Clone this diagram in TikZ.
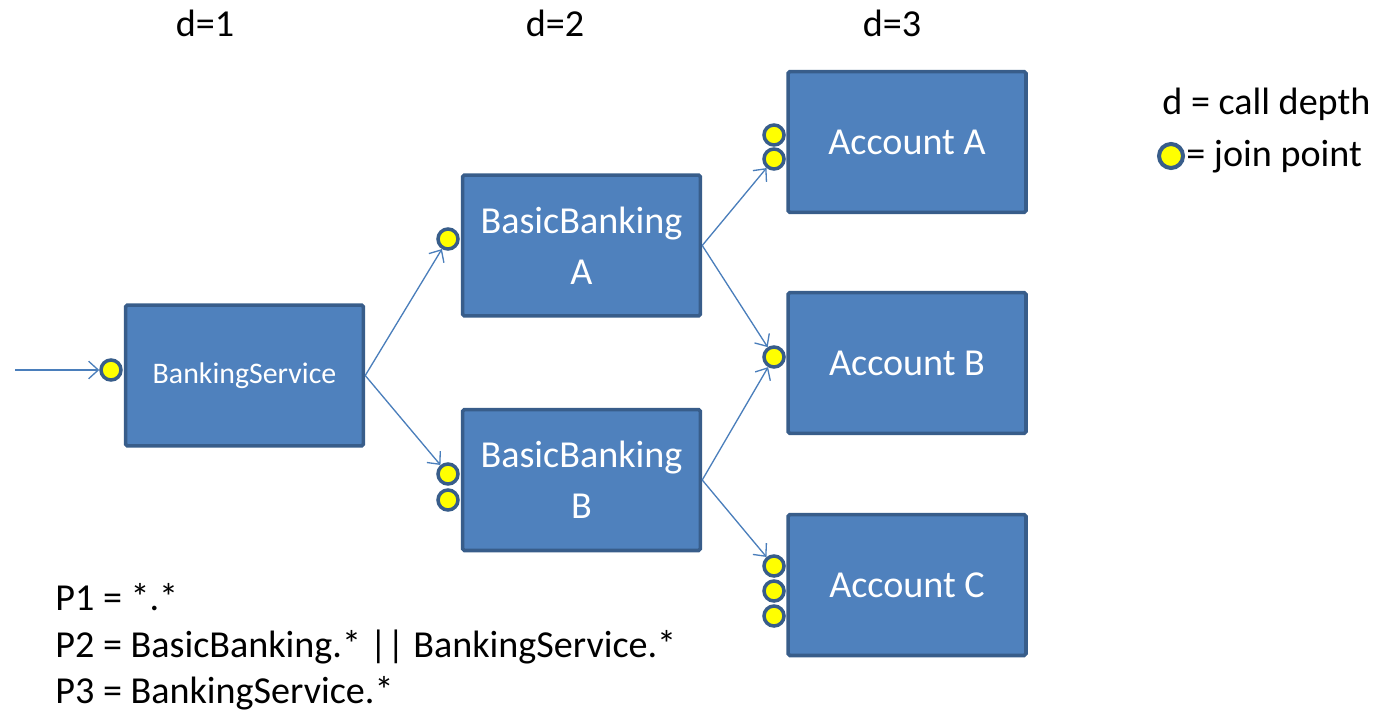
\documentclass[tikz,border=0pt]{standalone}
\usepackage{fontspec}
\setmainfont{Carlito}
\usetikzlibrary{arrows.meta}
\definecolor{boxfill}{HTML}{4F81BD}
\definecolor{boxline}{HTML}{385D8A}
\definecolor{arrowc}{HTML}{4A7EBB}
\definecolor{jpfill}{HTML}{FFFF00}

\begin{document}
\begin{tikzpicture}[x=0.02cm,y=-0.02cm,
  comp/.style={rectangle, draw=boxline, fill=boxfill, line width=2pt,
    minimum width=4.76cm, minimum height=2.82cm, rounded corners=1pt,
    text=white, align=center, font=\fontsize{21.7}{29}\selectfont, inner sep=0pt},
  jp/.style={circle, draw=boxline, fill=jpfill, line width=2pt,
    minimum size=0.4cm, inner sep=0pt},
  call/.style={draw=arrowc, line width=0.75pt, -{Straight Barb[length=5.5pt,width=10pt]}},
  lbl/.style={font=\fontsize{21.7}{26}\selectfont, inner sep=0pt, anchor=base west},
  depth/.style={font=\fontsize{21.7}{26}\selectfont, inner sep=0pt, anchor=base}]

\useasboundingbox (0,0) rectangle (1391,716);

% call depth headings
\node[depth] (d1) at (205,37) {d=1};
\node[depth] (d2) at (555,37) {d=2};
\node[depth] (d3) at (892,37) {d=3};

% components
\node[comp, font=\fontsize{17}{22}\selectfont] (bs) at (244.5,375.5) {BankingService};
\node[comp] (bba) at (581.5,245.5) {BasicBanking\\A};
\node[comp] (bbb) at (581.5,480) {BasicBanking\\B};
\node[comp] (aa) at (907,142) {Account A};
\node[comp] (ab) at (907,363) {Account B};
\node[comp] (ac) at (907,585) {Account C};

% join points
\node[jp] (j0) at (111,370) {};
\node[jp] (ja) at (448,239) {};
\node[jp] (jb1) at (448,474) {};
\node[jp] (jb2) at (448,500) {};
\node[jp] (jaa1) at (774,135) {};
\node[jp] (jaa2) at (774,159) {};
\node[jp] (jab) at (774,357) {};
\node[jp] (jac1) at (774,566) {};
\node[jp] (jac2) at (774,591) {};
\node[jp] (jac3) at (774,616) {};

% calls
\coordinate (entry) at (15,370);
\draw[call] (entry) -- (j0);
\draw[call] (bs.east) -- (ja);
\draw[call] (bs.east) -- (jb1);
\draw[call] (bba.east) -- (jaa2);
\draw[call] (bba.east) -- (jab);
\draw[call] (bbb.east) -- (jab);
\draw[call] (bbb.east) -- (jac1);

% legend
\node[lbl] (leg1) at (1162,115) {d = call depth};
\node[jp, minimum size=0.48cm, line width=2.3pt] (legjp) at (1171,156) {};
\node[lbl] (leg2) at (1186,167) {= join point};

% pointcuts
\node[lbl] (p1) at (55,610) {P1 = *.*};
\node[lbl] (p2) at (55,657) {P2 = BasicBanking.* || BankingService.*};
\node[lbl] (p3) at (55,703) {P3 = BankingService.*};
\end{tikzpicture}
\end{document}
